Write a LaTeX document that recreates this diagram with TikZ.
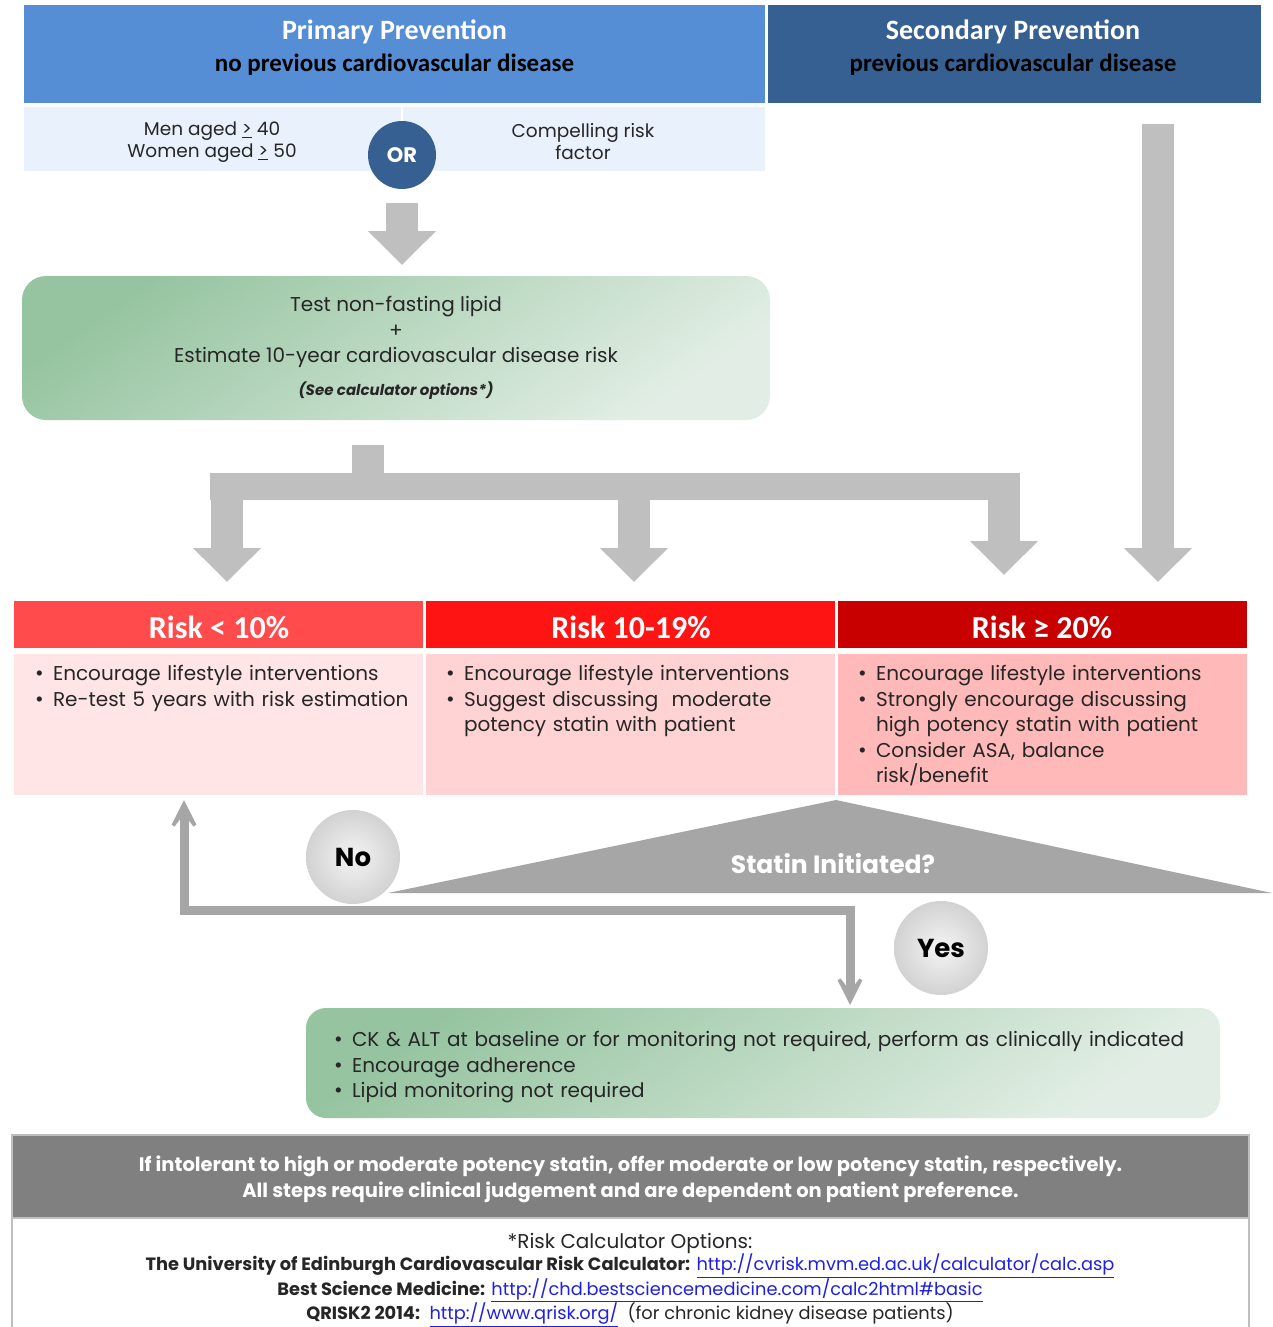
\documentclass[tikz,border=0pt]{standalone}
\usepackage{fontspec}
\setmainfont{Poppins}
\newfontfamily\hdfont{Carlito}
\usetikzlibrary{arrows.meta,calc}
\definecolor{primblue}{HTML}{558ED5}
\definecolor{secblue}{HTML}{376092}
\definecolor{critblue}{HTML}{E9F1FC}
\definecolor{arrowgrey}{HTML}{BFBFBF}
\definecolor{darkgrey}{HTML}{A6A6A6}
\definecolor{riskA}{HTML}{FF4B4B}
\definecolor{riskB}{HTML}{FF1414}
\definecolor{riskC}{HTML}{C80000}
\definecolor{bodyA}{HTML}{FFE5E5}
\definecolor{bodyB}{HTML}{FFD3D3}
\definecolor{bodyC}{HTML}{FFB9B9}
\definecolor{greenA}{HTML}{96C4A0}
\definecolor{greenB}{HTML}{E2EEE5}
\definecolor{bubbleA}{HTML}{F4F4F4}
\definecolor{bubbleB}{HTML}{D2D2D2}
\definecolor{noteband}{HTML}{808080}
\definecolor{linkblue}{HTML}{2020E0}
\newcommand{\itm}{\par\hangindent=18pt\hangafter=1\noindent\hbox to 18pt{{\fontsize{21}{21}\selectfont\textbullet}\hfil}}
\newcommand{\lnk}[1]{\textcolor{linkblue}{\underline{#1}}}

\begin{document}
\begin{tikzpicture}[x=1pt,y=-1pt,>=Stealth,
  every node/.style={inner sep=0pt,outer sep=0pt},
  hdr/.style={font=\hdfont\bfseries\fontsize{25}{32}\selectfont,align=center},
  small/.style={font=\fontsize{18.5}{22}\selectfont,align=center,text=black!85},
  body/.style={font=\fontsize{20}{25.5}\selectfont,text=black!85},
  riskhead/.style={minimum width=409pt,minimum height=47pt,fill=#1},
  risktxt/.style={text=white,font=\hdfont\bfseries\fontsize{32}{32}\selectfont},
  riskbody/.style={minimum width=409pt,minimum height=141pt},
  greenbox/.style={rounded corners=24pt,top color=greenA,bottom color=greenB,shading angle=35},
  fat/.style={draw=arrowgrey,line width=32pt},
  fathead/.style={fat,-{Triangle[length=34pt,width=66pt]}},
  answer/.style={circle,minimum size=94pt,inner color=bubbleA,outer color=bubbleB,
    font=\bfseries\fontsize{26}{26}\selectfont},
  route/.style={draw=darkgrey,line width=9pt,
    {Stealth[length=42pt,width=42pt,inset=28pt]}-{Stealth[length=42pt,width=42pt,inset=28pt]}}]
\useasboundingbox (0,0) rectangle (1272,1327);
\fill[white] (0,0) rectangle (1272,1327);

% headers
\node[fill=primblue,minimum width=741pt,minimum height=98pt] (prim) at (394.5,54) {};
\node[fill=secblue,minimum width=493pt,minimum height=98pt] (sec) at (1014.5,54) {};
\node[hdr] (primtxt) at (394.5,47.5) {\textcolor{white}{\fontsize{28}{32}\selectfont Primary Prevention}\\no previous cardiovascular disease};
\node[hdr] (sectxt) at (1013,47.5) {\textcolor{white}{\fontsize{28}{32}\selectfont Secondary Prevention}\\previous cardiovascular disease};

% who to screen
\node[fill=critblue,minimum width=377pt,minimum height=64pt] (age) at (212.5,139) {};
\node[fill=critblue,minimum width=362pt,minimum height=64pt] (crf) at (584,139) {};
\node[small] (agetxt) at (212,142) {Men aged \underline{>} 40\\Women aged \underline{>} 50};
\node[small] (crftxt) at (583,142) {Compelling risk\\factor};
\node[circle,fill=secblue,minimum size=68pt,text=white,font=\bfseries\fontsize{21}{21}\selectfont] (or) at (402,155) {OR};

% test and estimate
\node[greenbox,minimum width=748pt,minimum height=144pt,body,align=center] (test) at (396,348)
  {Test non-fasting lipid\\+\\Estimate 10-year cardiovascular disease risk\\[7pt]
   {\bfseries\itshape\fontsize{15}{15}\selectfont (See calculator options*)}};
\draw[fathead] ($(or.south)+(0,14)$) -- ($(test.north)+(6,-11)$);

% risk table
\node[riskhead=riskA] (rA) at (218.5,624.5) {};
\node[riskhead=riskB] (rB) at (630.5,624.5) {};
\node[riskhead=riskC] (rC) at (1042.5,624.5) {};
\node[risktxt] at (219,627) {Risk < 10\%};
\node[risktxt] at (631,627) {Risk 10-19\%};
\node[risktxt] at (1042,627) {Risk ≥ 20\%};
\node[riskbody,fill=bodyA] (bA) at (218.5,724.5) {};
\node[riskbody,fill=bodyB] (bB) at (630.5,724.5) {};
\node[riskbody,fill=bodyC] (bC) at (1042.5,724.5) {};
\node[body,anchor=north west,text width=390pt,align=left] (lA) at (35,655)
  {\itm Encourage lifestyle interventions\itm Re-test 5 years with risk estimation\par};
\node[body,anchor=north west,text width=390pt,align=left] (lB) at (446,655)
  {\itm Encourage lifestyle interventions\itm Suggest discussing\ \ moderate\newline potency statin with patient\par};
\node[body,anchor=north west,text width=390pt,align=left] (lC) at (858,655)
  {\itm Encourage lifestyle interventions\itm Strongly encourage discussing\newline high potency statin with patient\itm Consider ASA, balance\newline risk/benefit\par};

% arrows to the risk groups
\coordinate (split) at (368,486.5);
\draw[fat] ($(test.south)+(-28,25)$) -- (split);
\draw[fat,line width=27pt] ($(rA.north)+(-8.5,-114.5)$) -- ($(rC.north)+(-22.5,-114.5)$);
\draw[fathead] ($(rA.north)+(8.5,-128)$) -- ($(rA.north)+(8.5,-19)$);
\draw[fathead] ($(rB.north)+(3.5,-128)$) -- ($(rB.north)+(3.5,-19)$);
\draw[fathead] ($(rC.north)+(-38.5,-128)$) -- ($(rC.north)+(-38.5,-26)$);
\draw[fathead] ($(sec.south)+(143.5,21)$) -- ($(rC.north)+(115.5,-19)$);

% statin decision
\fill[darkgrey] (836,800) -- (1272,893) -- (388,893) -- cycle;
\node[font=\bfseries\fontsize{25}{25}\selectfont,text=white] (statin) at (833,864) {Statin Initiated?};
\node[greenbox,rounded corners=20pt,minimum width=914pt,minimum height=110pt] (mon) at (763,1063) {};
\node[body,anchor=north west,text width=890pt,align=left] (montxt) at (334,1021)
  {\itm CK \& ALT at baseline or for monitoring not required, perform as clinically indicated\itm Encourage adherence\itm Lipid monitoring not required\par};
\coordinate (noend) at ($(bA.south)+(-34.5,5)$);
\coordinate (yesend) at ($(mon.north)+(87,-3)$);
\draw[route] (noend) |- (850,910) -- (yesend);
\node[answer] (no) at (353,857) {No};
\node[answer] (yes) at (941,948) {Yes};

% notes
\node[fill=noteband,draw=arrowgrey,line width=1.5pt,minimum width=1237pt,minimum height=83pt] (note) at (630.5,1176.5) {};
\node[text=white,font=\bfseries\fontsize{19.5}{26}\selectfont,align=center] (notetxt) at (630.5,1179)
  {If intolerant to high or moderate potency statin, offer moderate or low potency statin, respectively.\\
   All steps require clinical judgement and are dependent on patient preference.};
\node[draw=arrowgrey,line width=1.5pt,minimum width=1237pt,minimum height=130pt,anchor=north] (calc) at (note.south) {};
\node[font=\fontsize{17.8}{22.5}\selectfont,align=center,anchor=north,text=black!85] (calctxt) at (630,1233)
  {{\fontsize{20}{22.5}\selectfont *Risk Calculator Options:}\\
   \textbf{The University of Edinburgh Cardiovascular Risk Calculator:} \lnk{http://cvrisk.mvm.ed.ac.uk/calculator/calc.asp}\\
   \textbf{Best Science Medicine:} \lnk{http://chd.bestsciencemedicine.com/calc2html\#basic}\\
   \textbf{QRISK2 2014:}\ \ \lnk{http://www.qrisk.org/}\ \ (for chronic kidney disease patients)};
\end{tikzpicture}
\end{document}
